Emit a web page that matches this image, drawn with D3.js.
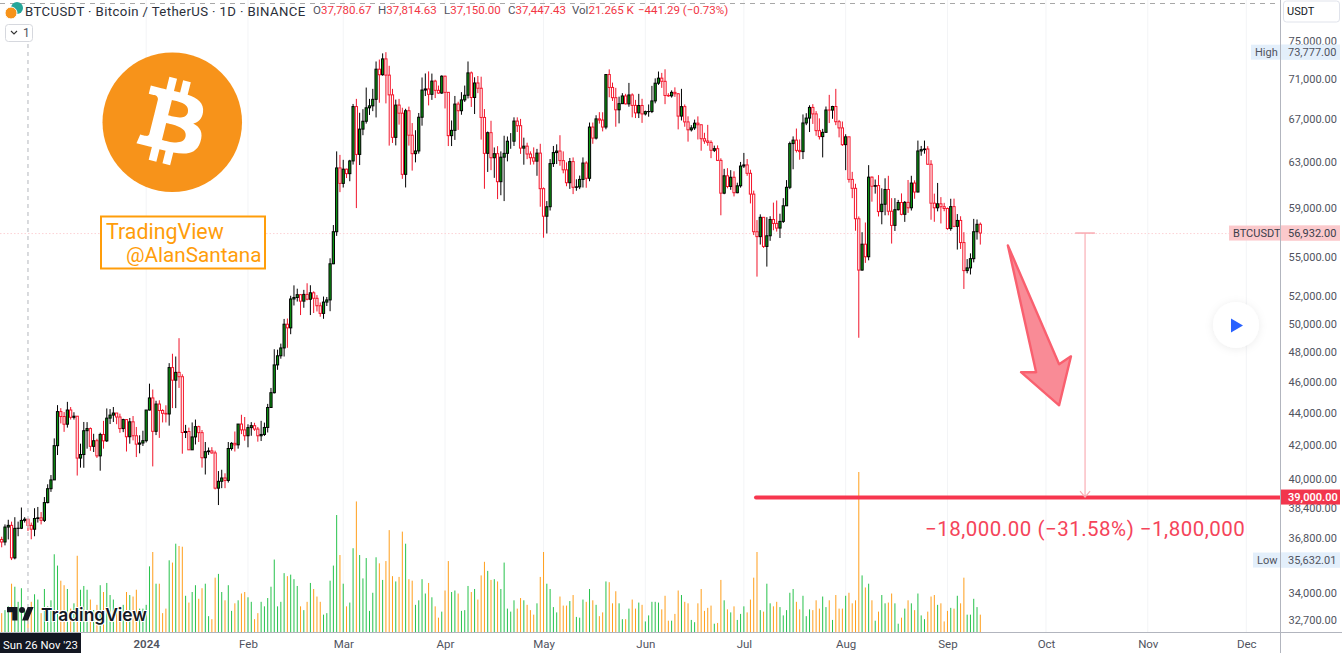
<!DOCTYPE html>
<html><head><meta charset="utf-8">
<script src="https://cdn.jsdelivr.net/npm/d3@7"></script>
<style>
html,body{margin:0;padding:0;background:#fff;overflow:hidden}
svg{display:block}
text{font-family:Roboto,"Open Sans",sans-serif}
</style></head><body>
<svg id="c" width="1342" height="653"></svg>
<script>
const firstDate = "2023-11-18";
const firstOpen = 36700;
// daily closes, one row per month
const closes = [
36568,37359,37450,35745,37290,37295,37716,37780.67,37447.43,37243,37820,37855,37720,
38690,39470,39970,41980,44080,43770,43290,44180,43720,43790,41240,41450,42890,43020,41940,42280,41370,42660,42270,43670,43860,43990,43740,43020,43580,42520,43440,42580,42070,42140,42280,
44180,44950,42850,44560,44150,43970,43930,46950,46110,46630,46340,42780,42840,41730,42510,43140,42770,41260,41620,41665,41545,39500,39890,40080,39940,41810,42120,42030,43300,42940,42580,
43080,43200,42990,42580,42660,43090,44340,45290,47130,47750,48290,49960,49700,51800,51910,52120,51640,52140,51780,52260,51850,51300,50740,51570,51730,54480,57040,62500,61130,
62390,61990,63130,68245,63724,66074,66823,68124,68313,68955,72000,71430,73070,71390,69400,65300,68390,67600,61930,67840,65500,63790,64040,67210,69880,69990,69450,70780,69850,69580,71280,
69650,65460,65960,68490,67840,68900,69360,71620,69140,70590,70060,67190,63820,65740,63420,63790,61280,63470,63820,64940,64940,66840,66400,64300,64480,63760,63420,63110,63840,60670,
58320,59120,62890,63890,64030,63160,62330,61190,63070,60790,60825,61480,62940,61580,66270,65230,67050,66940,66270,71450,70140,69120,67930,68530,69290,68510,69390,68360,67630,68350,67530,
67750,67760,68800,70570,71080,70760,69340,69300,69650,69510,67320,68240,66760,66010,66190,66640,66490,65170,64960,64830,64100,64250,63180,60280,61800,60860,61670,60320,60920,62670,
62770,62020,60200,57040,56640,58230,55850,56710,58050,57720,57340,57890,59200,60790,64720,65040,64090,63980,66660,67130,68160,67530,65930,65370,65770,67910,67900,68250,66780,66190,64620,
65350,61480,60700,58110,53990,56030,55030,61680,60880,60940,58710,59330,60600,58740,57560,58870,59480,58480,59490,59030,61160,60380,64040,64160,64220,62830,59420,59030,59370,59120,58970,
57300,59130,57480,57970,56160,53950,54160,54880,57040,57650,56932];
const highs = [
36845,37500,37750,37650,37890,37650,38420,37890,37814.63,37600,38380,38450,38170,
38999,39720,40250,42420,44490,44300,44050,44700,44370,44040,43800,42100,43430,43420,43090,42700,42400,42765,43500,44280,44240,44370,43900,43950,43630,43600,43680,43800,43120,42610,42890,
44180,45880,45500,44770,44800,44230,44480,47250,47890,47700,48970,46500,43250,43080,43400,43580,43200,42930,42200,41870,41890,41680,40480,40555,40350,42200,42190,42840,43300,43880,43740,
43285,43420,43380,43120,43500,43390,44570,45600,48200,48170,48590,50340,50370,52040,52820,52570,52160,52480,52980,52830,52370,52090,51540,51980,51950,54910,57590,64000,63680,
63230,62430,63230,68500,69000,67640,67990,70130,69000,70000,72800,73000,73650,73777,72350,70000,68930,69000,68130,68030,68240,66650,65970,67620,71150,71560,71770,71550,70920,70330,71370,
71340,69680,66900,69290,68720,69670,70330,72800,71760,71170,71300,71230,68000,65850,66870,64360,64480,64000,65450,65380,65700,67200,67200,67050,65270,64800,64000,64370,64230,64700,
60780,59600,63300,64500,64650,65500,64000,63000,63400,63450,61490,61820,63450,63100,66700,66700,67400,67700,67690,71500,71980,70630,70100,69220,69570,69500,70600,69550,68900,69500,69010,
67850,68450,70300,71060,71760,71620,71990,69560,69850,70150,69560,70000,68450,67300,66450,66980,67290,66490,65730,66480,65020,64530,64550,63370,62420,62480,62300,62200,61190,63040,
63860,63300,62340,60500,58000,58480,58240,58240,58320,59470,59650,58530,59850,61420,64900,65390,66130,65100,67480,67600,68370,68480,67800,67100,66100,68250,69400,68320,70000,66950,66800,
65590,65000,62150,61100,58300,57000,57800,62750,61740,61470,61860,60700,61580,61800,59850,59850,59700,60260,59610,61430,61800,61400,65000,64500,65000,64480,63200,60240,61170,59940,59450,
59050,59800,59810,58500,58320,57000,54850,55300,58100,58050,57800];
const lows = [
36290,36390,36700,35632.01,35670,36870,37250,37600,37150,36710,36870,37600,37500,
37630,38650,39290,39980,41420,43340,42820,43080,43580,43580,40220,40680,40670,41800,41670,41600,41250,40500,41800,42200,43300,43430,43290,42760,42800,41630,42100,42300,41300,41520,41960,
42170,44150,40750,42620,42450,43400,43400,43200,44300,44300,45600,41500,42440,41720,41720,42050,42200,40680,40280,41430,41500,39430,38555,39500,39500,39820,41690,41630,41800,42680,42280,
41880,42580,42880,42220,42260,42570,42780,44340,45240,46800,47550,47700,48300,49250,51320,51610,50620,51150,51700,50620,50770,50880,50500,50350,51280,50900,54450,56700,60370,
60770,61600,61320,62800,59005,62760,65500,66600,67430,67800,67190,68620,71330,68555,64530,64780,64550,66500,61530,60775,64530,62260,63000,63790,66400,69280,68360,68900,69080,69510,69500,
68060,64490,64490,65060,66000,67450,68700,69040,68210,67520,69570,65090,60660,62140,62300,61620,59770,60100,59600,63090,64240,64500,65800,63770,62790,63290,62790,62810,61800,59120,
56552,56900,58800,62590,62850,62700,62020,60880,60650,60200,60490,60630,60770,60750,61320,64700,65100,66600,65860,66060,69160,68800,66300,66620,68500,68450,68230,67200,67130,67130,66670,
67380,67260,67610,68560,70400,70100,68480,69200,69130,69200,66050,66900,66300,64900,65850,66000,65100,64060,64700,64520,63380,63940,63120,58400,60190,60700,60570,60000,60270,60760,
62500,61800,59400,56770,53485,56000,55730,54260,56300,57160,57050,56530,57760,59260,60630,62380,63900,63240,63300,66450,65800,66570,65450,65100,63450,65750,66650,67060,66450,65300,64500,
62300,61200,59850,57120,49000,53950,54550,54750,59550,60240,58300,57650,58400,58400,56080,57100,58800,58400,57850,58600,58800,59800,60350,63600,63790,62800,58030,57860,58730,57720,58740,
57200,57120,57410,55600,55650,52550,53740,53650,54590,56400,56000];
// traded volume, thousands of BTC
const volumes = [
25,29,34,64,60,40,58,29,21.265,40,50,43,25,57,34,42,103,88,68,62,57,31,38,101,56,61,56,43,29,36,62,53,65,49,43,29,34,36,53,49,47,56,31,31,36,
87,106,64,64,25,31,95,92,117,114,113,48,39,53,62,44,58,64,21,17,72,77,53,42,62,28,38,42,51,53,46,
40,17,25,40,34,45,60,96,34,40,78,74,76,70,61,34,29,40,65,57,47,40,23,25,68,88,155,102,64,34,39,
111,173,102,71,98,28,52,99,91,69,94,135,74,67,73,133,117,70,68,36,42,70,51,65,46,34,19,27,55,94,
53,55,51,28,29,61,53,57,43,75,93,81,69,70,67,57,92,31,27,42,31,45,42,36,29,23,38,73,106,64,57,
33,26,47,35,35,41,49,20,19,43,40,57,42,36,21,26,67,66,38,54,38,17,17,31,43,31,39,36,14,22,40,40,39,30,48,15,15,24,55,49,40,38,16,13,38,57,28,32,35,11,12,69,42,30,26,34,16,24,34,26,43,72,106,29,27,64,38,34,40,33,22,29,52,57,40,30,48,21,30,29,42,31,47,33,42,16,49,31,31,48,52,38,42,212,75,59,64,42,15,27,49,38,39,51,38,11,
19,31,42,38,29,51,22,17,27,47,49,36,38,14,28,32,31,48,38,72,23,23,44,33,23];
const priceTicks = [75000,71000,67000,63000,59000,55000,52000,50000,48000,46000,44000,42000,40000,38400,36800,34000,32700];
const monthDates = ["2024-01-01","2024-02-01","2024-03-01","2024-04-01","2024-05-01","2024-06-01","2024-07-01","2024-08-01","2024-09-01","2024-10-01","2024-11-01","2024-12-01"];
const monthLabels = ["2024","Feb","Mar","Apr","May","Jun","Jul","Aug","Sep","Oct","Nov","Dec"];
const lastPrice = 56932, targetPrice = 39000, highPrice = 73777, lowPrice = 35632.01;
const crosshairDate = "2023-11-26";
// drawn annotations: [bars after first date, price]
const arrowAnchors = [[306.4,55930],[315,46640],[310.4,46640],[322,44480],[325.6,47710],[322,47180]];
const targetLineStartBar = 229.7, rulerBar = 329.9;
const legendParts = [["O","37,780.67",313],["H","37,814.63",378],["L","37,150.00",444],["C","37,447.43",508],["Vol","21.265 K",572],["","−441.29 (−0.73%)",638]];

const W=1342,H=653,paneR=1280.5,baseY=632;
const parse=d3.utcParse("%Y-%m-%d");
const t0=parse(firstDate);
const dayOf=i=>d3.utcDay.offset(t0,Math.floor(i));
const bars=closes.map((c,i)=>({date:dayOf(i),o:i?closes[i-1]:firstOpen,h:highs[i],l:lows[i],c,v:volumes[i]}));
const x=d3.scaleUtc().domain([t0,bars[bars.length-1].date]).range([1.7,980.3]);
const xb=i=>x(t0)+i*(x(dayOf(1))-x(t0));
const y=d3.scaleLog().domain([75000,32700]).range([40.7,620]);
const yv=d3.scaleLinear().domain([0,212]).range([baseY,472]);

const svg=d3.select("#c");
const defs=svg.append("defs");
defs.append("clipPath").attr("id","pane").append("rect").attr("width",paneR).attr("height",baseY);
const sh=defs.append("filter").attr("id","sh").attr("x","-40%").attr("y","-40%").attr("width","180%").attr("height","180%");
sh.append("feDropShadow").attr("dx",0).attr("dy",1).attr("stdDeviation",4).attr("flood-color","#000").attr("flood-opacity",.08);

// month grid
svg.append("g").selectAll("line").data(monthDates).join("line")
 .attr("x1",d=>x(parse(d))).attr("x2",d=>x(parse(d))).attr("y1",0).attr("y2",baseY)
 .attr("stroke","#f3f4f6").attr("stroke-width",1);

const pane=svg.append("g").attr("clip-path","url(#pane)");
// top dashed line + crosshair
svg.append("line").attr("x1",0).attr("x2",paneR).attr("y1",3.5).attr("y2",3.5).attr("stroke","#a8a8a8").attr("stroke-dasharray","5 5");
svg.append("line").attr("x1",x(parse(crosshairDate))).attr("x2",x(parse(crosshairDate))).attr("y1",44).attr("y2",baseY).attr("stroke","#c9cbd0").attr("stroke-width",1.4).attr("stroke-dasharray","4 4");
// price line
pane.append("line").attr("x1",0).attr("x2",paneR).attr("y1",y(lastPrice)+.5).attr("y2",y(lastPrice)+.5).attr("stroke","#fcd3d7").attr("stroke-dasharray","1.5 2");

// volume
const up=d=>d.c>=d.o;
pane.append("g").selectAll("rect").data(bars).join("rect")
 .attr("x",d=>x(d.date)-.5).attr("width",1)
 .attr("y",d=>yv(d.v)).attr("height",d=>baseY-yv(d.v))
 .attr("fill",d=>up(d)?"#27c24c":"#ff9f1c");

// candles
const cg=pane.append("g").selectAll("g").data(bars).join("g");
cg.append("line").attr("x1",d=>x(d.date)).attr("x2",d=>x(d.date))
 .attr("y1",d=>y(d.h)).attr("y2",d=>y(d.l))
 .attr("stroke",d=>up(d)?"#000":"#f0142a").attr("stroke-width",1);
cg.append("rect").attr("x",d=>x(d.date)-1.1).attr("width",2.2)
 .attr("y",d=>y(Math.max(d.o,d.c))).attr("height",d=>Math.abs(y(d.o)-y(d.c)))
 .attr("fill",d=>up(d)?"#0a9a12":"#fff").attr("stroke",d=>up(d)?"#000":"#f5142a").attr("stroke-width",1);

// target line, ruler, arrow
svg.append("line").attr("x1",xb(targetLineStartBar)).attr("x2",paneR).attr("y1",y(targetPrice)+.4).attr("y2",y(targetPrice)+.4)
 .attr("stroke","#f7364e").attr("stroke-width",4).attr("stroke-linecap","round");
const rx=xb(rulerBar);
const ruler=svg.append("g").attr("stroke","#f9aeb5").attr("fill","none");
ruler.append("line").attr("x1",rx).attr("x2",rx).attr("y1",y(lastPrice)).attr("y2",y(targetPrice)).attr("stroke-width",1.2);
ruler.append("line").attr("x1",xb(rulerBar-3)).attr("x2",xb(rulerBar+3)).attr("y1",y(lastPrice)).attr("y2",y(lastPrice)).attr("stroke-width",1.6);
ruler.append("path").attr("d",d3.line()([[rx-5,y(targetPrice)-6],[rx,y(targetPrice)],[rx+5,y(targetPrice)-6]])).attr("stroke-width",1.2);
svg.append("path").attr("d",d3.line()(arrowAnchors.map(([b,p])=>[xb(b),y(p)]))+"Z")
 .attr("fill","#f98b96").attr("stroke","#f9606f").attr("stroke-width",2.4).attr("stroke-linejoin","round");
svg.append("text").attr("x",925).attr("y",535.5).attr("fill","#f5445a").attr("font-size",20.5).attr("letter-spacing",".5")
 .text("−18,000.00 (−31.58%) −1,800,000");

// bitcoin logo
const logo=svg.append("g").attr("transform","translate(102.5,52.5) scale(2.18)");
logo.append("circle").attr("cx",32).attr("cy",32).attr("r",32).attr("fill","#f7931a");
logo.append("path").attr("fill","#fff").attr("d","M46.11 27.441c.636-4.258-2.606-6.547-7.039-8.074l1.438-5.768-3.512-.875-1.4 5.616c-.922-.23-1.87-.447-2.812-.662l1.41-5.653-3.509-.875-1.439 5.766c-.764-.174-1.514-.346-2.242-.527l.004-.018-4.842-1.209-.934 3.75s2.605.597 2.55.634c1.422.355 1.68 1.296 1.636 2.042l-1.638 6.571c.098.025.225.061.365.117l-.37-.092-2.297 9.205c-.174.432-.615 1.08-1.609.834.035.051-2.552-.637-2.552-.637l-1.743 4.02 4.57 1.139c.85.213 1.683.436 2.502.646l-1.453 5.835 3.507.875 1.44-5.772c.957.26 1.887.5 2.797.726L27.504 50.8l3.511.875 1.453-5.823c5.987 1.133 10.49.676 12.383-4.738 1.527-4.36-.075-6.875-3.225-8.516 2.294-.531 4.022-2.04 4.483-5.157zM38.087 38.69c-1.086 4.36-8.426 2.004-10.807 1.412l1.928-7.729c2.38.594 10.011 1.77 8.88 6.317zm1.085-11.312c-.99 3.966-7.1 1.951-9.083 1.457l1.748-7.01c1.983.494 8.367 1.416 7.335 5.553z");

// author box
svg.append("rect").attr("x",101).attr("y",216.5).attr("width",164).attr("height",52).attr("fill","#fff").attr("stroke","#ff9d0a").attr("stroke-width",2);
svg.append("text").attr("x",106).attr("y",239).attr("fill","#ff9d0a").attr("font-size",21.4).text("TradingView");
svg.append("text").attr("x",126).attr("y",261.5).attr("fill","#ff9d0a").attr("font-size",20.7).text("@AlanSantana");

// watermark
const wm=svg.append("g").attr("transform","translate(7,604) scale(.75)").attr("fill","#131722");
wm.append("path").attr("d","M14 22H7V11H0V4h14v18zM28 22h-8l7.5-18h8L28 22z");
wm.append("circle").attr("cx",20).attr("cy",8).attr("r",4);
svg.append("text").attr("x",41).attr("y",621).attr("font-size",17.4).attr("font-weight",600).attr("fill","#131722")
 .attr("stroke","#fff").attr("stroke-width",2).attr("paint-order","stroke").style("font-family","Inter").text("TradingView");

// header
svg.append("g").call(g=>{
 g.append("circle").attr("cx",17).attr("cy",8).attr("r",6).attr("fill","#26a69a");
 g.append("circle").attr("cx",11).attr("cy",13).attr("r",6).attr("fill","#f7931a").attr("stroke","#fff");
});
svg.append("text").attr("x",25).attr("y",16).attr("font-size",13.2).attr("fill","#2a2e39").attr("letter-spacing",".38").text("BTCUSDT · Bitcoin / TetherUS · 1D · BINANCE");
legendParts.forEach(([k,v,px])=>{
 const t=svg.append("text").attr("x",px).attr("y",14).attr("font-size",11.5);
 if(k) t.append("tspan").attr("fill","#50535e").text(k);
 t.append("tspan").attr("fill","#f23645").text(v);
});
// interval box
svg.append("rect").attr("x",5.5).attr("y",24.5).attr("width",27).attr("height",17).attr("rx",3).attr("fill","#fff").attr("stroke","#d6d8de");
svg.append("path").attr("d","M11 31l3 3 3-3").attr("fill","none").attr("stroke","#333").attr("stroke-width",1.1);
svg.append("text").attr("x",23).attr("y",37).attr("font-size",12).attr("fill","#50535e").text("1");

// play button
svg.append("circle").attr("cx",1236).attr("cy",325).attr("r",23).attr("fill","#fff").attr("filter","url(#sh)");
svg.append("path").attr("d","M1231 318.5L1243 325.5L1231 332.5Z").attr("fill","#2962ff");

// axes
const yAxis=d3.axisRight(y).tickValues(priceTicks).tickSize(0).tickPadding(8).tickFormat(d3.format(",.2f"));
const yg=svg.append("g").attr("transform",`translate(${paneR},0)`).call(yAxis);
yg.select(".domain").remove();
yg.selectAll("text").attr("font-size",11).attr("fill","#50535e").style("font-family","Roboto");
const xAxis=d3.axisBottom(x).tickValues(monthDates.map(parse)).tickSize(0).tickPadding(8).tickFormat((d,i)=>monthLabels[i]);
const xg=svg.append("g").attr("transform",`translate(0,${baseY})`).call(xAxis);
xg.select(".domain").remove();
xg.selectAll("text").attr("font-size",11.5).attr("fill","#50535e").style("font-family","Roboto");
xg.selectAll("text").filter((d,i)=>i===0).attr("font-weight",600);
svg.append("line").attr("x1",0).attr("x2",W).attr("y1",baseY+.5).attr("y2",baseY+.5).attr("stroke","#b2b5be");
svg.append("line").attr("x1",paneR).attr("x2",paneR).attr("y1",0).attr("y2",H).attr("stroke","#b2b5be");

// axis badges
function badge(x0,w,cy,h,fill,txt,color,tx,bold){
 svg.append("rect").attr("x",x0).attr("y",cy-h/2).attr("width",w).attr("height",h).attr("fill",fill);
 if(txt){svg.append("text").attr("x",tx).attr("y",cy+4).attr("font-size",11).attr("fill",color).attr("font-weight",bold?600:400).text(txt);}
}
const f2=d3.format(",.2f");
badge(1251,89,y(highPrice),15,"#e3effb","High","#50535e",1255);
badge(1281,59,y(highPrice),15,"#e3effb",f2(highPrice),"#50535e",1288);
badge(1253,87,y(lowPrice),15,"#e3effb","Low","#50535e",1257);
badge(1281,59,y(lowPrice),15,"#e3effb",f2(lowPrice),"#50535e",1288);
badge(1229,111,y(lastPrice),15,"#fbc9cc","BTCUSDT","#3a3e4a",1233);
badge(1281,59,y(lastPrice),15,"#fbc9cc",f2(lastPrice),"#3a3e4a",1288);
badge(1281,59,y(targetPrice),15,"#f2364d",f2(targetPrice),"#fff",1288,true);
svg.append("line").attr("x1",paneR).attr("x2",paneR).attr("y1",0).attr("y2",H).attr("stroke","#b2b5be");
// currency box
svg.append("rect").attr("x",1283.5).attr("y",1).attr("width",56).attr("height",21).attr("rx",3).attr("fill","#fff").attr("stroke","#e0e3eb");
svg.append("text").attr("x",1287).attr("y",15).attr("font-size",11).attr("fill","#131722").text("USDT");
// crosshair date tag
svg.append("rect").attr("x",0).attr("y",633).attr("width",81).attr("height",20).attr("fill","#131722");
svg.append("text").attr("x",3).attr("y",649).attr("font-size",11.3).attr("fill","#fff").text("Sun 26 Nov '23");
</script>
</body></html>
